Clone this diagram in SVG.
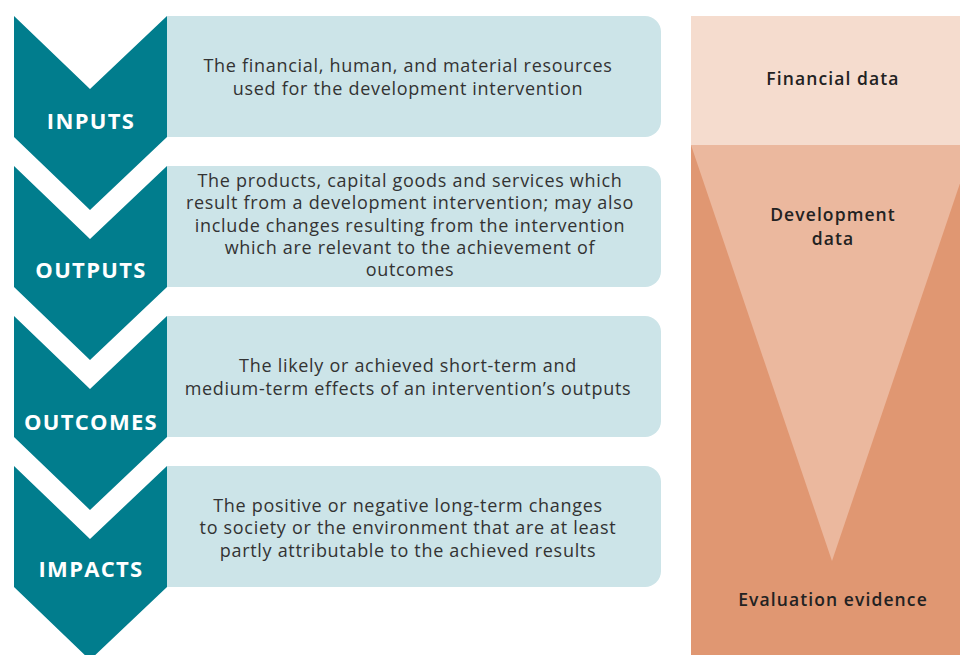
<svg xmlns="http://www.w3.org/2000/svg" width="960" height="655" viewBox="0 0 960 655">
<style>
.chev{fill:#017D8D}
.box{fill:#CCE4E8}
.lbl{font-family:"Open Sans","Liberation Sans",sans-serif;font-weight:700;font-size:22px;letter-spacing:1.3px;fill:#FFFFFF;text-anchor:middle}
.body{font-family:"Open Sans","Liberation Sans",sans-serif;font-weight:400;font-size:18px;letter-spacing:0.7px;fill:#333333;text-anchor:middle}
.side{font-family:"Open Sans","Liberation Sans",sans-serif;font-weight:600;font-size:17.5px;letter-spacing:1.1px;fill:#222222;text-anchor:middle}
</style>
<rect width="960" height="655" fill="#FFFFFF"/>
<g id="panel">
<rect x="691" y="16" width="269" height="639" fill="#E09772"/>
<polygon points="691,145 973,145 832,561" fill="#EBB89E"/>
<rect x="691" y="16" width="269" height="129" fill="#F5DCCE"/>
<text class="side" x="833" y="85">Financial data</text>
<text class="side" x="833" y="221">Development</text>
<text class="side" x="833" y="245">data</text>
<text class="side" x="833" y="606">Evaluation evidence</text>
</g>
<g id="inputs">
<path class="box" d="M167,16 H645 A16,16 0 0 1 661,32 V121 A16,16 0 0 1 645,137 H167 Z"/>
<path class="chev" d="M14,16 L90,89 L167,16 L167,137 L90,210 L14,137 Z"/>
<text class="lbl" x="91" y="129">INPUTS</text>
<text class="body" x="408" y="72">The financial, human, and material resources</text>
<text class="body" x="408" y="95">used for the development intervention</text>
</g>
<g id="outputs">
<path class="box" d="M167,166 H645 A16,16 0 0 1 661,182 V271 A16,16 0 0 1 645,287 H167 Z"/>
<path class="chev" d="M14,166 L90,239 L167,166 L167,287 L90,360 L14,287 Z"/>
<text class="lbl" x="91" y="278">OUTPUTS</text>
<text class="body" x="410" y="187">The products, capital goods and services which</text>
<text class="body" x="410" y="209">result from a development intervention; may also</text>
<text class="body" x="410" y="232">include changes resulting from the intervention</text>
<text class="body" x="410" y="254">which are relevant to the achievement of</text>
<text class="body" x="410" y="276">outcomes</text>
</g>
<g id="outcomes">
<path class="box" d="M167,316 H645 A16,16 0 0 1 661,332 V421 A16,16 0 0 1 645,437 H167 Z"/>
<path class="chev" d="M14,316 L90,389 L167,316 L167,437 L90,510 L14,437 Z"/>
<text class="lbl" x="91" y="430">OUTCOMES</text>
<text class="body" x="408" y="372">The likely or achieved short-term and</text>
<text class="body" x="408" y="395">medium-term effects of an intervention’s outputs</text>
</g>
<g id="impacts">
<path class="box" d="M167,466 H645 A16,16 0 0 1 661,482 V571 A16,16 0 0 1 645,587 H167 Z"/>
<path class="chev" d="M14,466 L90,539 L167,466 L167,587 L90,660 L14,587 Z"/>
<text class="lbl" x="91" y="577">IMPACTS</text>
<text class="body" x="408" y="512">The positive or negative long-term changes</text>
<text class="body" x="408" y="534">to society or the environment that are at least</text>
<text class="body" x="408" y="557">partly attributable to the achieved results</text>
</g>
<g id="connectors"></g>
</svg>
